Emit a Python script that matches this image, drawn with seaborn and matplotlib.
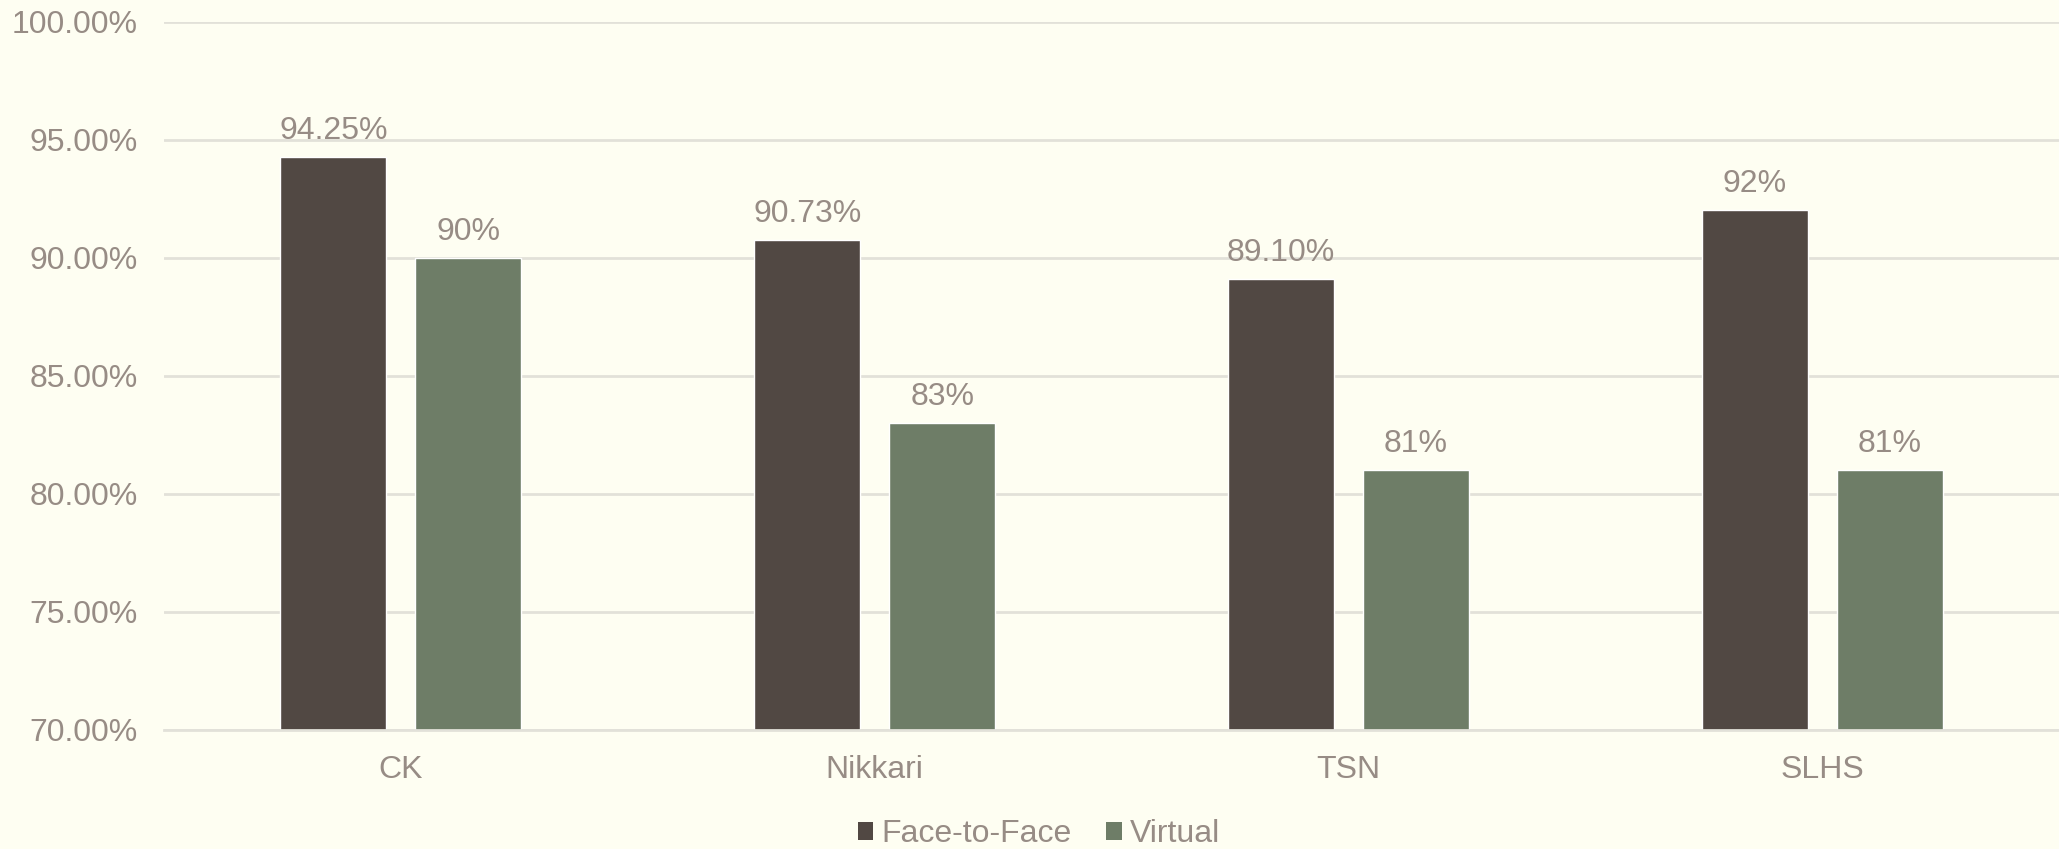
import matplotlib
matplotlib.use("Agg")
import matplotlib.pyplot as plt
import seaborn as sns
import pandas as pd
from matplotlib.ticker import FuncFormatter, MultipleLocator
from matplotlib.patches import Patch

categories = ["CK", "Nikkari", "TSN", "SLHS"]
series_names = ["Face-to-Face", "Virtual"]
face_values = [94.25, 90.73, 89.10, 92.0]
virtual_values = [90.0, 83.0, 81.0, 81.0]
face_labels = ["94.25%", "90.73%", "89.10%", "92%"]
virtual_labels = ["90%", "83%", "81%", "81%"]

BG = "#FEFEF2"
TXT = "#978C85"
GRID = "#E2E1D9"
COLORS = ["#514843", "#6E7D67"]
FS = 23

df = pd.DataFrame({
    "category": categories * 2,
    "series": [series_names[0]] * 4 + [series_names[1]] * 4,
    "value": face_values + virtual_values,
})

sns.set_theme(style="white")
plt.rcParams["font.family"] = ["Liberation Sans", "DejaVu Sans"]

fig = plt.figure(figsize=(20.59, 8.49), dpi=100, facecolor=BG)
ax = fig.add_axes([0.0797, 0.1407, 0.9203, 0.8337])
ax.set_facecolor(BG)

sns.barplot(data=df, x="category", y="value", hue="series", order=categories,
            hue_order=series_names, palette=COLORS, width=0.570, gap=0.215,
            saturation=1, ax=ax, legend=False, zorder=3)

ax.set_ylim(70, 100)
ax.set_xlim(-0.5, 3.5)
ax.yaxis.set_major_locator(MultipleLocator(5))
ax.yaxis.set_major_formatter(FuncFormatter(lambda v, p: f"{v:.2f}%"))
ax.grid(axis="y", color=GRID, linewidth=2, zorder=0)
ax.grid(axis="x", visible=False)
for s in ["top", "right", "left"]:
    ax.spines[s].set_visible(False)
ax.spines["bottom"].set_color(GRID)
ax.spines["bottom"].set_linewidth(2)
ax.spines["bottom"].set_zorder(4)
ax.tick_params(axis="y", length=0, pad=19, labelsize=FS, labelcolor=TXT)
ax.tick_params(axis="x", length=0, pad=18.5, labelsize=FS, labelcolor=TXT)
ax.set_xlabel("")
ax.set_ylabel("")

for cont, labels in zip(ax.containers, [face_labels, virtual_labels]):
    ax.bar_label(cont, labels=labels, padding=8, fontsize=FS, color=TXT)

handles = [Patch(facecolor=c, edgecolor="none") for c in COLORS]
fig.legend(handles, series_names, loc="lower center", bbox_to_anchor=(0.5046, -0.034),
           ncol=2, frameon=False, fontsize=FS, labelcolor=TXT,
           handlelength=0.5, handleheight=0.5, handletextpad=0.25, columnspacing=1.08)

fig.savefig("out.png", dpi=100, facecolor=BG)
